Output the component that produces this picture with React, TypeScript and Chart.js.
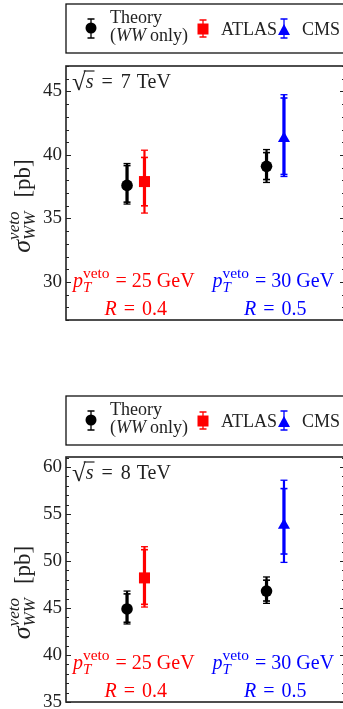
import React, { useEffect, useRef } from 'react';
import { Chart, registerables } from 'chart.js';
Chart.register(...registerables);

// ---------- data ----------
const setupCenters = [1, 3]; // the two jet-veto set-ups on a 0–4 axis
const theoryOffset = -0.125;
const expOffset = 0.125;
const ptVetoLabels = ['25', '30'];
const radiusLabels = ['0.4', '0.5'];
const setupColors = ['#ff0000', '#0000ff'];
const experimentNames = ['ATLAS', 'CMS'];

// √s = 7 TeV
const theory7 = [37.6, 39.1];
const theory7InnerUp = [1.56, 1.08];
const theory7InnerDown = [1.32, 1.04];
const theory7OuterUp = [1.72, 1.32];
const theory7OuterDown = [1.47, 1.27];
const exp7 = [37.9, 41.3]; // ATLAS, CMS
const exp7InnerUp = [1.9, 3.18];
const exp7InnerDown = [1.91, 2.84];
const exp7OuterUp = [2.47, 3.44];
const exp7OuterDown = [2.48, 3.0];
const yTicks7 = [30, 35, 40, 45];

// √s = 8 TeV
const theory8 = [44.9, 46.8];
const theory8InnerUp = [1.6, 1.16];
const theory8InnerDown = [1.42, 1.06];
const theory8OuterUp = [1.9, 1.5];
const theory8OuterDown = [1.6, 1.31];
const exp8 = [48.2, 53.8];
const exp8InnerUp = [3.0, 3.9];
const exp8InnerDown = [2.81, 3.06];
const exp8OuterUp = [3.32, 4.79];
const exp8OuterDown = [3.1, 3.95];
const yTicks8 = [35, 40, 45, 50, 55, 60];

// ---------- styling helpers ----------
const SERIF = "'Liberation Serif', 'Times New Roman', serif";
const rm = (s: number) => `${s}px ${SERIF}`;
const it = (s: number) => `italic ${s}px ${SERIF}`;
const CANVAS_W = 350;

type Seg = { t?: string; f?: string; dy?: number; gap?: number; over?: number; sup?: Seg; sub?: Seg };

function segW(ctx: CanvasRenderingContext2D, s: Seg): number {
  if (s.gap !== undefined) return s.gap;
  if (s.sup || s.sub) return Math.max(s.sup ? segW(ctx, s.sup) : 0, s.sub ? segW(ctx, s.sub) : 0);
  ctx.font = s.f!;
  return ctx.measureText(s.t!).width;
}

function drawRich(ctx: CanvasRenderingContext2D, segs: Seg[], x: number, y: number, align: 'left' | 'center', color: string) {
  const total = segs.reduce((a, s) => a + segW(ctx, s), 0);
  let cx = align === 'center' ? x - total / 2 : x;
  ctx.save();
  ctx.fillStyle = color;
  ctx.strokeStyle = color;
  ctx.textAlign = 'left';
  ctx.textBaseline = 'alphabetic';
  for (const s of segs) {
    const w = segW(ctx, s);
    if (s.sup || s.sub) {
      for (const p of [s.sup, s.sub]) {
        if (p) {
          ctx.font = p.f!;
          ctx.fillText(p.t!, cx, y + (p.dy || 0));
        }
      }
    } else if (s.t) {
      ctx.font = s.f!;
      ctx.fillText(s.t, cx, y + (s.dy || 0));
      if (s.over !== undefined) {
        ctx.lineWidth = 1.2;
        ctx.beginPath();
        ctx.moveTo(cx - 2, y - s.over);
        ctx.lineTo(cx + w + 1, y - s.over);
        ctx.stroke();
      }
    }
    cx += w;
  }
  ctx.restore();
}

type PanelCfg = {
  energy: string;
  theory: number[];
  thIU: number[]; thID: number[]; thOU: number[]; thOD: number[];
  exp: number[];
  exIU: number[]; exID: number[]; exOU: number[]; exOD: number[];
  yMin: number; yMax: number; yTicks: number[];
  canvasH: number; legendTop: number; areaTop: number; areaBottom: number;
};

const panel7: PanelCfg = {
  energy: '7', theory: theory7, thIU: theory7InnerUp, thID: theory7InnerDown, thOU: theory7OuterUp, thOD: theory7OuterDown,
  exp: exp7, exIU: exp7InnerUp, exID: exp7InnerDown, exOU: exp7OuterUp, exOD: exp7OuterDown,
  yMin: 27, yMax: 47, yTicks: yTicks7, canvasH: 345, legendTop: 4, areaTop: 66, areaBottom: 320,
};
const panel8: PanelCfg = {
  energy: '8', theory: theory8, thIU: theory8InnerUp, thID: theory8InnerDown, thOU: theory8OuterUp, thOD: theory8OuterDown,
  exp: exp8, exIU: exp8InnerUp, exID: exp8InnerDown, exOU: exp8OuterUp, exOD: exp8OuterDown,
  yMin: 35, yMax: 61.06, yTicks: yTicks8, canvasH: 345, legendTop: 16, areaTop: 77, areaBottom: 322,
};

function drawErrorBar(ctx: CanvasRenderingContext2D, x: number, yc: (v: number) => number, c: number,
  iu: number, id: number, ou: number, od: number, color: string) {
  ctx.save();
  ctx.strokeStyle = color;
  ctx.lineCap = 'butt';
  // outer
  ctx.lineWidth = 2.2;
  ctx.beginPath();
  ctx.moveTo(x, yc(c + ou));
  ctx.lineTo(x, yc(c - od));
  ctx.stroke();
  ctx.lineWidth = 1.3;
  for (const v of [c + ou, c - od]) {
    ctx.beginPath();
    ctx.moveTo(x - 3.5, yc(v));
    ctx.lineTo(x + 3.5, yc(v));
    ctx.stroke();
  }
  // inner
  ctx.lineWidth = 3.2;
  ctx.beginPath();
  ctx.moveTo(x, yc(c + iu));
  ctx.lineTo(x, yc(c - id));
  ctx.stroke();
  ctx.lineWidth = 1.6;
  for (const v of [c + iu, c - id]) {
    ctx.beginPath();
    ctx.moveTo(x - 3.5, yc(v));
    ctx.lineTo(x + 3.5, yc(v));
    ctx.stroke();
  }
  ctx.restore();
}

function legendMarker(ctx: CanvasRenderingContext2D, kind: string, x: number, y: number, top: number, bottom: number, color: string) {
  ctx.save();
  ctx.strokeStyle = color;
  ctx.fillStyle = color;
  ctx.lineWidth = 1.3;
  ctx.beginPath();
  ctx.moveTo(x, top); ctx.lineTo(x, bottom);
  ctx.moveTo(x - 3.5, top); ctx.lineTo(x + 3.5, top);
  ctx.moveTo(x - 3.5, bottom); ctx.lineTo(x + 3.5, bottom);
  ctx.stroke();
  ctx.beginPath();
  if (kind === 'circle') ctx.arc(x, y, 5.5, 0, Math.PI * 2);
  else if (kind === 'rect') ctx.rect(x - 5.5, y - 5.5, 11, 11);
  else {
    ctx.moveTo(x, y - 7);
    ctx.lineTo(x + 6, y + 4);
    ctx.lineTo(x - 6, y + 4);
    ctx.closePath();
  }
  ctx.fill();
  ctx.restore();
}

function makeDecor(cfg: PanelCfg) {
  return {
    id: 'decor',
    beforeDatasetsDraw(chart: any) {
      const ctx: CanvasRenderingContext2D = chart.ctx;
      const xs = chart.scales.x;
      const ys = chart.scales.y;
      const yc = (v: number) => ys.getPixelForValue(v);
      cfg.theory.forEach((c, i) => {
        drawErrorBar(ctx, xs.getPixelForValue(setupCenters[i] + theoryOffset), yc, c, cfg.thIU[i], cfg.thID[i], cfg.thOU[i], cfg.thOD[i], '#000');
      });
      cfg.exp.forEach((c, i) => {
        drawErrorBar(ctx, xs.getPixelForValue(setupCenters[i] + expOffset), yc, c, cfg.exIU[i], cfg.exID[i], cfg.exOU[i], cfg.exOD[i], setupColors[i]);
      });
    },
    afterDraw(chart: any) {
      const ctx: CanvasRenderingContext2D = chart.ctx;
      const a = chart.chartArea;
      const ys = chart.scales.y;
      const xs = chart.scales.x;
      ctx.save();
      // frame
      ctx.strokeStyle = '#222';
      ctx.lineWidth = 1.6;
      ctx.strokeRect(a.left, a.top, a.right - a.left, a.bottom - a.top);
      // ticks (inward, both sides)
      ctx.lineWidth = 1;
      for (let v = Math.ceil(cfg.yMin); v <= cfg.yMax; v += 1) {
        const major = cfg.yTicks.includes(v);
        const len = major ? 5 : 3;
        const y = Math.round(ys.getPixelForValue(v)) + 0.5;
        ctx.beginPath();
        ctx.moveTo(a.left, y); ctx.lineTo(a.left + len, y);
        ctx.moveTo(a.right, y); ctx.lineTo(a.right - len, y);
        ctx.stroke();
      }
      ctx.restore();

      // √s label
      drawRich(ctx, [
        { t: '√', f: rm(25), dy: 2 },
        { t: 's', f: it(20), over: 17 },
        { gap: 8 }, { t: '=', f: rm(20) }, { gap: 8 },
        { t: cfg.energy, f: rm(20) }, { gap: 6 }, { t: 'TeV', f: rm(20) },
      ], a.left + 6, a.top + 22, 'left', '#222');

      // set-up labels
      setupCenters.forEach((c, i) => {
        const x = xs.getPixelForValue(c);
        drawRich(ctx, [
          { t: 'p', f: it(20) },
          { sup: { t: 'veto', f: rm(15.5), dy: -9 }, sub: { t: 'T', f: it(15), dy: 5 } },
          { gap: 6 }, { t: '=', f: rm(20) }, { gap: 5 },
          { t: ptVetoLabels[i], f: rm(20) }, { gap: 5 }, { t: 'GeV', f: rm(20) },
        ], x - 2, a.bottom - 33, 'center', setupColors[i]);
        drawRich(ctx, [
          { t: 'R', f: it(20) }, { gap: 7 }, { t: '=', f: rm(20) }, { gap: 7 }, { t: radiusLabels[i], f: rm(20) },
        ], x, a.bottom - 5, 'center', setupColors[i]);
      });

      // y title
      ctx.save();
      ctx.translate(30, (a.top + a.bottom) / 2 + 13);
      ctx.rotate(-Math.PI / 2);
      drawRich(ctx, [
        { t: 'σ', f: it(26) },
        { sup: { t: 'veto', f: it(17), dy: -11 }, sub: { t: 'WW', f: it(17), dy: 5 } },
        { gap: 14 },
        { t: '[pb]', f: rm(23) },
      ], 0, 0, 'center', '#222');
      ctx.restore();

      // legend
      const L = cfg.legendTop;
      ctx.save();
      ctx.strokeStyle = '#111';
      ctx.lineWidth = 1.3;
      ctx.strokeRect(a.left, L, 400, 49);
      ctx.restore();
      legendMarker(ctx, 'circle', 91, L + 24, L + 15, L + 34, '#000');
      drawRich(ctx, [{ t: 'Theory', f: rm(18) }], 110, L + 19, 'left', '#222');
      drawRich(ctx, [{ t: '(', f: rm(18) }, { t: 'WW', f: it(18) }, { gap: 4 }, { t: 'only)', f: rm(18) }], 110, L + 37, 'left', '#222');
      legendMarker(ctx, 'rect', 203, L + 25, L + 16, L + 33, setupColors[0]);
      drawRich(ctx, [{ t: experimentNames[0], f: rm(18) }], 221, L + 31, 'left', '#222');
      legendMarker(ctx, 'tri', 284, L + 27, L + 15, L + 34, setupColors[1]);
      drawRich(ctx, [{ t: experimentNames[1], f: rm(18) }], 302, L + 31, 'left', '#222');
    },
  };
}

function Panel({ cfg, top }: { cfg: PanelCfg; top: number }) {
  const ref = useRef<HTMLCanvasElement | null>(null);
  useEffect(() => {
    if (!ref.current) return;
    const chart = new Chart(ref.current, {
      type: 'scatter',
      data: {
        datasets: [
          {
            label: 'Theory (WW only)',
            data: cfg.theory.map((y, i) => ({ x: setupCenters[i] + theoryOffset, y })),
            pointStyle: 'circle', pointRadius: 5.8, backgroundColor: '#000', borderColor: '#000', borderWidth: 0,
          },
          {
            label: experimentNames[0],
            data: [{ x: setupCenters[0] + expOffset, y: cfg.exp[0] }],
            pointStyle: 'rect', pointRadius: 7.8, backgroundColor: setupColors[0], borderColor: setupColors[0], borderWidth: 0,
          },
          {
            label: experimentNames[1],
            data: [{ x: setupCenters[1] + expOffset, y: cfg.exp[1] }],
            pointStyle: 'triangle', pointRadius: 7, backgroundColor: setupColors[1], borderColor: setupColors[1], borderWidth: 0,
          },
        ],
      },
      options: {
        responsive: false,
        animation: false,
        events: [],
        layout: { autoPadding: false, padding: { left: 0, right: 5, top: cfg.areaTop, bottom: cfg.canvasH - cfg.areaBottom } },
        plugins: { legend: { display: false }, tooltip: { enabled: false } },
        scales: {
          x: { type: 'linear', min: 0, max: 4, display: false },
          y: {
            type: 'linear', min: cfg.yMin, max: cfg.yMax,
            grid: { display: false, drawTicks: false, tickLength: 0 }, border: { display: false },
            afterBuildTicks: (s: any) => { s.ticks = cfg.yTicks.map((v) => ({ value: v })); },
            afterFit: (s: any) => { s.width = 66; },
            ticks: { font: { family: SERIF, size: 19 }, color: '#222', padding: 4 },
          },
        },
      },
      plugins: [makeDecor(cfg)],
    } as any);
    return () => chart.destroy();
  }, [cfg]);
  return (
    <canvas ref={ref} width={CANVAS_W} height={cfg.canvasH}
      style={{ position: 'absolute', left: 0, top, width: CANVAS_W, height: cfg.canvasH }} />
  );
}

export default function App() {
  return (
    <div style={{ position: 'absolute', left: 0, top: 0, width: 343, height: 709, overflow: 'hidden', background: '#fff' }}>
      <Panel cfg={panel7} top={0} />
      <Panel cfg={panel8} top={380} />
    </div>
  );
}
